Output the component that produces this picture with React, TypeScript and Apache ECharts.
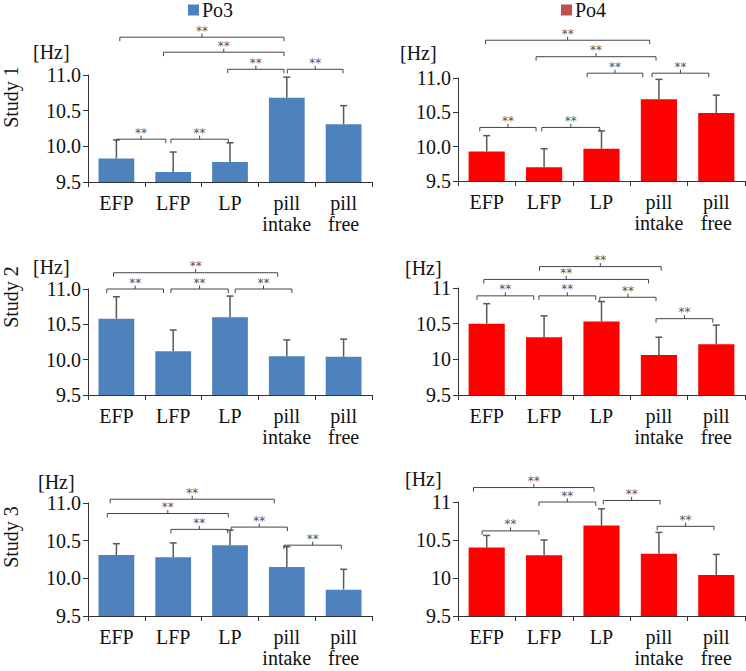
import React, { useEffect, useRef } from "react";
import * as echarts from "echarts";

const categories = ["EFP", "LFP", "LP", "pill\nintake", "pill\nfree"];

const po3Study1Mean = [9.83, 9.64, 9.78, 10.68, 10.31];
const po3Study1Upper = [10.09, 9.92, 10.05, 10.97, 10.57];
const po3Study2Mean = [10.58, 10.12, 10.6, 10.05, 10.04];
const po3Study2Upper = [10.89, 10.42, 10.9, 10.28, 10.29];
const po3Study3Mean = [10.31, 10.28, 10.44, 10.15, 9.85];
const po3Study3Upper = [10.46, 10.47, 10.64, 10.42, 10.12];

const po4Study1Mean = [9.93, 9.7, 9.97, 10.69, 10.49];
const po4Study1Upper = [10.16, 9.97, 10.23, 10.98, 10.75];
const po4Study2Mean = [10.5, 10.31, 10.53, 10.06, 10.21];
const po4Study2Upper = [10.78, 10.61, 10.81, 10.31, 10.48];
const po4Study3Mean = [10.4, 10.3, 10.69, 10.32, 10.04];
const po4Study3Upper = [10.56, 10.5, 10.91, 10.6, 10.31];

// significance brackets: [from (category index), to (category index), level (Hz)]
const po3Study1Brackets = [
  [0.0, 0.87, 10.1],
  [0.96, 1.97, 10.1],
  [1.96, 2.95, 11.08],
  [3.01, 3.99, 11.08],
  [0.83, 2.95, 11.32],
  [0.06, 2.95, 11.53],
];
const po3Study2Brackets = [
  [-0.17, 0.83, 11.0],
  [0.96, 1.97, 11.0],
  [2.09, 3.09, 11.0],
  [-0.05, 2.84, 11.23],
];
const po3Study3Brackets = [
  [-0.11, 2.78, 11.05],
  [-0.16, 1.97, 10.86],
  [0.96, 1.96, 10.65],
  [2.02, 3.01, 10.68],
  [2.95, 3.96, 10.44],
];
const po4Study1Brackets = [
  [-0.12, 0.86, 10.28],
  [0.96, 1.97, 10.28],
  [1.75, 2.72, 11.07],
  [2.88, 3.87, 11.07],
  [0.86, 2.95, 11.31],
  [-0.02, 2.84, 11.55],
];
const po4Study2Brackets = [
  [-0.17, 0.82, 10.89],
  [0.91, 1.9, 10.89],
  [1.97, 2.95, 10.87],
  [2.95, 3.94, 10.57],
  [-0.05, 2.82, 11.12],
  [0.92, 3.04, 11.3],
];
const po4Study3Brackets = [
  [-0.23, 1.87, 11.19],
  [-0.08, 0.91, 10.62],
  [0.91, 1.9, 11.0],
  [2.03, 3.02, 11.02],
  [2.97, 3.96, 10.68],
];

const yMin = 9.5;
const yMax = 11;
const yInterval = 0.5;

const SERIF = "Liberation Serif";
const PO3_COLOR = "#4F81BD";
const PO4_COLOR = "#FF0000";
const PO4_LEGEND = "#C0504D";

const panels = [
  { name: "Po3", color: PO3_COLOR, mean: po3Study1Mean, upper: po3Study1Upper, brackets: po3Study1Brackets, grid: { left: 88, top: 75, width: 284, height: 107 }, fixed: true },
  { name: "Po3", color: PO3_COLOR, mean: po3Study2Mean, upper: po3Study2Upper, brackets: po3Study2Brackets, grid: { left: 88, top: 289, width: 284, height: 106 }, fixed: true },
  { name: "Po3", color: PO3_COLOR, mean: po3Study3Mean, upper: po3Study3Upper, brackets: po3Study3Brackets, grid: { left: 88, top: 503, width: 284, height: 113 }, fixed: true },
  { name: "Po4", color: PO4_COLOR, mean: po4Study1Mean, upper: po4Study1Upper, brackets: po4Study1Brackets, grid: { left: 458, top: 78, width: 287, height: 103 }, fixed: true },
  { name: "Po4", color: PO4_COLOR, mean: po4Study2Mean, upper: po4Study2Upper, brackets: po4Study2Brackets, grid: { left: 458, top: 288, width: 287, height: 107 }, fixed: false },
  { name: "Po4", color: PO4_COLOR, mean: po4Study3Mean, upper: po4Study3Upper, brackets: po4Study3Brackets, grid: { left: 458, top: 502, width: 287, height: 114 }, fixed: false },
];

const hzLabels = [
  { x: 33, y: 52 },
  { x: 33, y: 267 },
  { x: 38, y: 482 },
  { x: 400, y: 53 },
  { x: 405, y: 268 },
  { x: 405, y: 479 },
];
const studyLabels = [
  { text: "Study 1", y: 97 },
  { text: "Study 2", y: 297 },
  { text: "Study 3", y: 537 },
];

function buildOption() {
  const grid: any[] = [];
  const xAxis: any[] = [];
  const yAxis: any[] = [];
  const series: any[] = [];

  panels.forEach((p, i) => {
    grid.push({ ...p.grid, containLabel: false });
    xAxis.push({
      type: "category",
      gridIndex: i,
      data: categories,
      axisLine: { show: true, lineStyle: { color: "#333", width: 1 } },
      axisTick: { show: true, length: 5, lineStyle: { color: "#333" } },
      axisLabel: {
        interval: 0,
        color: "#111",
        fontFamily: SERIF,
        fontSize: 20,
        lineHeight: 21,
        margin: 10,
      },
    });
    yAxis.push({
      type: "value",
      gridIndex: i,
      min: yMin,
      max: yMax,
      interval: yInterval,
      splitLine: { show: false },
      axisLine: { show: true, lineStyle: { color: "#333", width: 1 } },
      axisTick: { show: true, length: 5, lineStyle: { color: "#333" } },
      axisLabel: {
        color: "#111",
        fontFamily: SERIF,
        fontSize: 20,
        margin: 7,
        formatter: p.fixed
          ? (v: number) => v.toFixed(1)
          : (v: number) => String(v),
      },
    });
    series.push({
      type: "bar",
      name: p.name,
      xAxisIndex: i,
      yAxisIndex: i,
      data: p.mean,
      barWidth: "63%",
      itemStyle: { color: p.color },
      z: 2,
    });
    series.push({
      type: "custom",
      name: "err" + i,
      xAxisIndex: i,
      yAxisIndex: i,
      z: 3,
      encode: { x: 0, y: 1 },
      data: p.mean.map((m, k) => [k, m, p.upper[k]]),
      renderItem: (params: any, api: any) => {
        const k = api.value(0);
        const top = api.coord([k, api.value(2)]);
        const base = api.coord([k, api.value(1)]);
        return {
          type: "group",
          children: [
            {
              type: "line",
              shape: { x1: base[0], y1: base[1], x2: top[0], y2: top[1] },
              style: { stroke: "#595959", lineWidth: 1.5 },
            },
            {
              type: "line",
              shape: { x1: top[0] - 3.5, y1: top[1], x2: top[0] + 3.5, y2: top[1] },
              style: { stroke: "#595959", lineWidth: 1.5 },
            },
          ],
        };
      },
    });
    series.push({
      type: "custom",
      name: "brk" + i,
      xAxisIndex: i,
      yAxisIndex: i,
      z: 4,
      clip: false,
      encode: { x: 0, y: 3 },
      data: p.brackets.map((b) => [0, b[0], b[1], b[2]]),
      renderItem: (params: any, api: any) => {
        const origin = api.coord([0, api.value(3)]);
        const band = api.size([1, 0])[0];
        const x1 = origin[0] + api.value(1) * band;
        const x2 = origin[0] + api.value(2) * band;
        const y = origin[1];
        const xm = (x1 + x2) / 2;
        return {
          type: "group",
          children: [
            {
              type: "polyline",
              shape: { points: [[x1, y + 4], [x1, y], [x2, y], [x2, y + 4]] },
              style: { stroke: "#444", lineWidth: 1, fill: null },
            },
            {
              type: "line",
              shape: { x1: xm, y1: y, x2: xm, y2: y - 3.5 },
              style: { stroke: "#444", lineWidth: 1 },
            },
            {
              type: "text",
              x: xm,
              y: y - 6.5,
              style: {
                text: "**",
                fill: "#555",
                font: "12px DejaVu Sans",
                align: "center",
                verticalAlign: "middle",
              },
            },
          ],
        };
      },
    });
  });

  const graphic: any[] = [];
  hzLabels.forEach((h) => {
    graphic.push({
      type: "text",
      x: h.x,
      y: h.y,
      style: {
        text: "[Hz]",
        fill: "#111",
        font: "20px " + SERIF,
        verticalAlign: "middle",
      },
    });
  });
  studyLabels.forEach((s) => {
    graphic.push({
      type: "text",
      x: 11,
      y: s.y,
      rotation: Math.PI / 2,
      style: {
        text: s.text,
        fill: "#111",
        font: "20px " + SERIF,
        align: "center",
        verticalAlign: "middle",
      },
    });
  });

  const legendCommon = {
    top: -2,
    icon: "rect",
    itemWidth: 11,
    itemHeight: 11,
    itemGap: 4,
    padding: 2,
    selectedMode: false,
    textStyle: { fontFamily: SERIF, fontSize: 20, lineHeight: 18, color: "#111", padding: [0, 0, 0, -2] },
  };

  return {
    animation: false,
    grid,
    xAxis,
    yAxis,
    series,
    graphic,
    legend: [
      { ...legendCommon, left: 186, data: [{ name: "Po3", itemStyle: { color: PO3_COLOR } }] },
      { ...legendCommon, left: 559, data: [{ name: "Po4", itemStyle: { color: PO4_LEGEND } }] },
    ],
  };
}

export default function App() {
  const ref = useRef<HTMLDivElement>(null);
  useEffect(() => {
    if (!ref.current) return;
    const chart = echarts.init(ref.current, null, { renderer: "svg" });
    chart.setOption(buildOption() as any);
    return () => chart.dispose();
  }, []);
  return (
    <div
      ref={ref}
      style={{ position: "fixed", left: 0, top: 0, width: 746, height: 671, background: "#fff" }}
    />
  );
}
